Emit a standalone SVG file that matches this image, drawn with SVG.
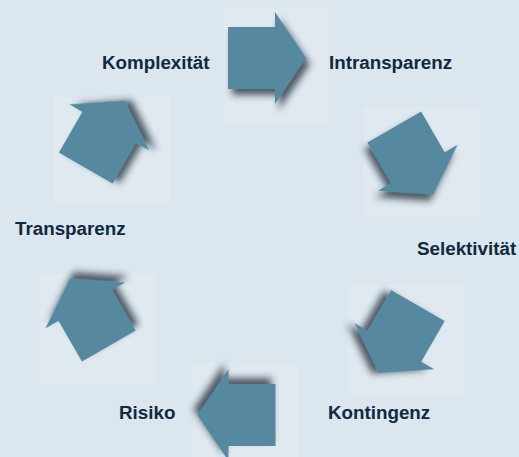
<svg xmlns="http://www.w3.org/2000/svg" width="519" height="457" viewBox="0 0 519 457">
<style>
.bg{fill:#dce6ee}
.pad{fill:#e0e9f0}
.arrow{fill:#56889f;filter:url(#sh)}
.lbl{font-family:"Liberation Sans",Arial,sans-serif;font-weight:bold;font-size:18.8px;fill:#0f2a3e}
</style>
<defs>
<filter id="sh" x="-30%" y="-30%" width="170%" height="170%">
<feDropShadow dx="4" dy="6" stdDeviation="3.5" flood-color="#1b2b36" flood-opacity="0.75"/>
</filter>
<path id="arr" d="M -39,-31 L 8,-31 L 8,-46 L 39,0 L 8,46 L 8,31 L -39,31 Z"/>
</defs>
<rect class="bg" x="0" y="0" width="519" height="457"/>
<g id="pads">
<rect class="pad" x="224" y="7" width="104" height="117"/>
<rect class="pad" x="363" y="107" width="116" height="109"/>
<rect class="pad" x="348" y="285" width="116" height="109"/>
<rect class="pad" x="193" y="363" width="105" height="94"/>
<rect class="pad" x="39" y="274" width="118" height="109"/>
<rect class="pad" x="54" y="97" width="116" height="107"/>
</g>
<g id="connectors">
<use class="arrow" href="#arr" transform="translate(267,58)"/>
<use class="arrow" href="#arr" transform="translate(413.8,160.8) rotate(60)"/>
<use class="arrow" href="#arr" transform="translate(398.4,339.3) rotate(120)"/>
<use class="arrow" href="#arr" transform="translate(236.5,415) rotate(180)"/>
<use class="arrow" href="#arr" transform="translate(89.3,312.3) rotate(240)"/>
<use class="arrow" href="#arr" transform="translate(105.2,134.3) rotate(300)"/>
</g>
<g id="komplexitaet"><text class="lbl" x="102" y="69">Komplexität</text></g>
<g id="intransparenz"><text class="lbl" x="329" y="69">Intransparenz</text></g>
<g id="selektivitaet"><text class="lbl" x="417" y="255">Selektivität</text></g>
<g id="kontingenz"><text class="lbl" x="328" y="419">Kontingenz</text></g>
<g id="risiko"><text class="lbl" x="119" y="419">Risiko</text></g>
<g id="transparenz"><text class="lbl" x="15" y="235">Transparenz</text></g>
</svg>
